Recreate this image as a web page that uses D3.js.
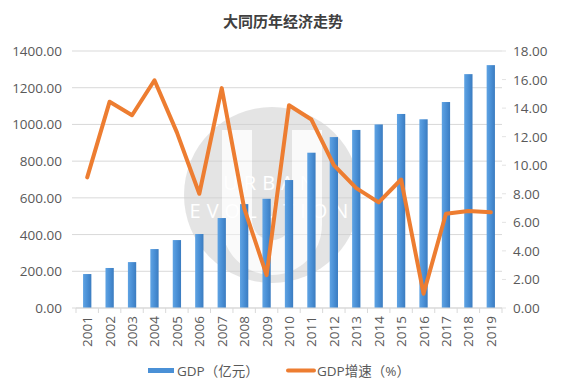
<!DOCTYPE html>
<html><head><meta charset="utf-8">
<script src="https://cdn.jsdelivr.net/npm/d3@7"></script>
<style>
body{margin:0;background:#fff;}
svg{display:block;font-family:"Open Sans","Noto Sans CJK SC",sans-serif;}
</style></head><body>
<svg id="c" width="563" height="390"></svg>
<script>
const years = ["2001","2002","2003","2004","2005","2006","2007","2008","2009","2010","2011","2012","2013","2014","2015","2016","2017","2018","2019"];
const gdp = [185,218,250,321,370,403,490,566,595,697,846,931,970,1000,1057,1028,1122,1274,1323];
const growth = [9.15,14.45,13.5,15.95,12.3,8.0,15.4,7.0,2.3,14.2,13.2,10.0,8.4,7.4,9.0,1.0,6.6,6.8,6.7];
const leftTicks = [0,200,400,600,800,1000,1200,1400];
const rightTicks = [0,2,4,6,8,10,12,14,16,18];
const title = "大同历年经济走势";
const legendLabels = ["GDP（亿元）","GDP增速（%）"];

const svg = d3.select("#c");
const L = 76, R = 502, T = 51, B = 308;
const x = d3.scaleBand().domain(years).range([L,R]).paddingInner(0.63).paddingOuter(0.315);
const yL = d3.scaleLinear().domain([0,1400]).range([B,T]);
const yR = d3.scaleLinear().domain([0,18]).range([B,T]);

const defs = svg.append("defs");
const g = defs.append("linearGradient").attr("id","bg").attr("x1",0).attr("x2",1).attr("y1",0).attr("y2",0);
g.append("stop").attr("offset","0%").attr("stop-color","#5fa3e3");
g.append("stop").attr("offset","50%").attr("stop-color","#4a90d6");
g.append("stop").attr("offset","100%").attr("stop-color","#3b7cc0");

// title
svg.append("text").attr("x",283).attr("y",27).attr("text-anchor","middle")
  .attr("font-size",15).attr("font-weight","bold").attr("fill","#404040")
  .attr("font-family","'Noto Sans CJK SC',sans-serif").text(title);

// grid
svg.append("g").selectAll("line").data(leftTicks).join("line")
  .attr("x1",L-4).attr("x2",R).attr("y1",d=>yL(d)).attr("y2",d=>yL(d))
  .attr("stroke","#d9d9d9").attr("stroke-width",1);

// watermark
const wm = svg.append("g").attr("opacity",0.55);
wm.append("circle").attr("cx",272).attr("cy",195).attr("r",88).attr("fill","#cfcfcf");
wm.append("path").attr("d","M222,130 h30 v90 a20,20 0 0 0 40,0 v-90 h30 v95 a50,50 0 0 1 -100,0 z").attr("fill","#ffffff").attr("opacity",0.8);
wm.append("text").attr("x",272).attr("y",190).attr("text-anchor","middle").attr("font-size",20)
  .attr("letter-spacing",6).attr("fill","#fff").text("URBAN");
wm.append("text").attr("x",272).attr("y",218).attr("text-anchor","middle").attr("font-size",20)
  .attr("letter-spacing",6).attr("fill","#fff").text("EVOLUTION");

// bars
svg.append("g").selectAll("rect").data(gdp).join("rect")
  .attr("x",(d,i)=>x(years[i])).attr("width",x.bandwidth())
  .attr("y",d=>yL(d)).attr("height",d=>B-yL(d)).attr("fill","url(#bg)");

// x axis
const xa = svg.append("g").attr("transform",`translate(0,${B})`);
xa.append("line").attr("x1",L).attr("x2",R).attr("stroke","#d9d9d9");
const step = (R-L)/years.length;
xa.selectAll("line.t").data(d3.range(years.length+1)).join("line").attr("class","t")
  .attr("x1",i=>L+i*step).attr("x2",i=>L+i*step).attr("y1",0).attr("y2",5).attr("stroke","#d9d9d9");
xa.selectAll("text").data(years).join("text")
  .attr("transform",d=>`translate(${x(d)+x.bandwidth()/2+5},${8}) rotate(-90)`)
  .attr("text-anchor","end").attr("font-size",13.5).attr("fill","#595959").text(d=>d);

// left axis labels
svg.append("g").selectAll("text").data(leftTicks).join("text")
  .attr("x",62).attr("y",d=>yL(d)+5).attr("text-anchor","end")
  .attr("font-size",13.5).attr("fill","#595959").text(d=>d.toFixed(2));
// right axis labels
svg.append("g").selectAll("text").data(rightTicks).join("text")
  .attr("x",513).attr("y",d=>yR(d)+5).attr("text-anchor","start")
  .attr("font-size",13.5).attr("fill","#595959").text(d=>d.toFixed(2));
svg.append("g").selectAll("line").data(rightTicks).join("line")
  .attr("x1",R).attr("x2",R+4).attr("y1",d=>yR(d)).attr("y2",d=>yR(d)).attr("stroke","#e3e3e3");

// line
const line = d3.line().x((d,i)=>x(years[i])+x.bandwidth()/2).y(d=>yR(d));
svg.append("path").datum(growth).attr("d",line).attr("fill","none")
  .attr("stroke","#ed7d31").attr("stroke-width",4).attr("stroke-linejoin","round").attr("stroke-linecap","round");

// legend
const lg = svg.append("g");
lg.append("rect").attr("x",148).attr("y",368).attr("width",26).attr("height",5).attr("fill","#4a90d6");
lg.append("text").attr("x",177).attr("y",376).attr("font-size",13.5).attr("fill","#595959").text(legendLabels[0]);
lg.append("line").attr("x1",288).attr("x2",314).attr("y1",370.5).attr("y2",370.5)
  .attr("stroke","#ed7d31").attr("stroke-width",4).attr("stroke-linecap","round");
lg.append("text").attr("x",317).attr("y",376).attr("font-size",13.5).attr("fill","#595959").text(legendLabels[1]);
</script></body></html>
